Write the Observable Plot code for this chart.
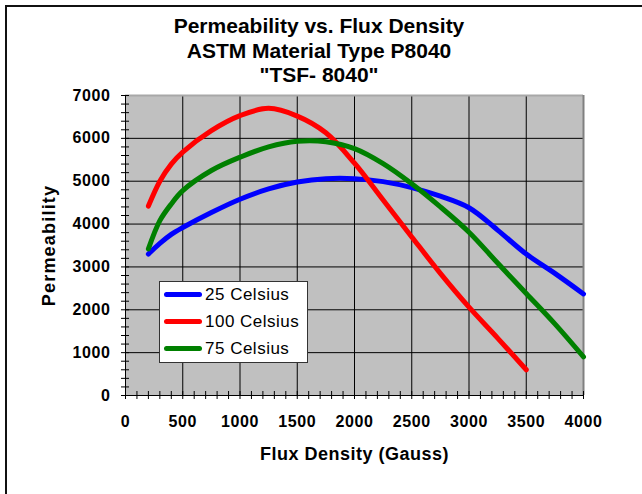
<!DOCTYPE html>
<html>
<head>
<meta charset="utf-8">
<script src="https://cdn.jsdelivr.net/npm/d3@7"></script>
<script src="https://cdn.jsdelivr.net/npm/@observablehq/plot@0.6"></script>
<style>
  html, body { margin: 0; padding: 0; background: #fff; overflow: hidden; }
  body { width: 642px; height: 494px; position: relative; font-family: "Liberation Sans", Arial, sans-serif; }
  #frame { position: absolute; left: 5px; top: 5px; width: 2000px; height: 2000px; border-left: 2px solid #111; border-top: 2px solid #111; }
  #chart { position: absolute; left: 0; top: 0; }
  #title { position: absolute; left: 0; top: 14px; width: 638px; text-align: center; font-weight: bold; font-size: 21px; line-height: 24.5px; color: #000; }
  #legend { position: absolute; left: 159px; top: 281px; width: 147px; height: 80px; background: #fff; border: 1px solid #333; }
  .item { position: absolute; left: 4px; height: 27px; display: flex; align-items: center; font-size: 17px; letter-spacing: 0.5px; color: #000; }
  .sw { width: 38px; height: 5px; border-radius: 3px; margin-right: 3px; }
  g[aria-label="y-axis label"] text { letter-spacing: 1.2px; }
  g[aria-label="x-axis label"] text { letter-spacing: 0.5px; }
  g[aria-label="x-axis tick label"] text, g[aria-label="y-axis tick label"] text { letter-spacing: 0.6px; }
</style>
</head>
<body>
<div id="frame"></div>
<div id="chart"></div>
<div id="title">Permeability vs. Flux Density<br>ASTM Material Type P8040<br>"TSF- 8040"</div>
<div id="legend"></div>
<script>
// ---- data ----
const flux25 = [200, 300, 400, 500, 750, 1000, 1250, 1500, 1750, 2000, 2250, 2500, 2750, 3000, 3250, 3500, 3750, 4000];
const perm25 = [3300, 3550, 3760, 3920, 4270, 4580, 4820, 4980, 5060, 5060, 4990, 4850, 4650, 4380, 3860, 3300, 2850, 2370];

const flux100 = [200, 300, 400, 500, 750, 1000, 1250, 1500, 1750, 2000, 2250, 2500, 2750, 3000, 3250, 3500];
const perm100 = [4420, 5000, 5400, 5680, 6180, 6530, 6700, 6520, 6130, 5420, 4560, 3700, 2850, 2060, 1340, 600];

const flux75 = [200, 300, 400, 500, 750, 1000, 1250, 1500, 1750, 2000, 2250, 2500, 2750, 3000, 3250, 3500, 3750, 4000];
const perm75 = [3420, 4080, 4470, 4780, 5250, 5560, 5800, 5930, 5920, 5760, 5410, 4940, 4400, 3810, 3090, 2380, 1670, 900];

const seriesNames = ["25 Celsius", "100 Celsius", "75 Celsius"];
const xTicks = [0, 500, 1000, 1500, 2000, 2500, 3000, 3500, 4000];
const yTicks = [0, 1000, 2000, 3000, 4000, 5000, 6000, 7000];

// ---- styles ----
const colors = ["#0000ff", "#ff0000", "#008000"];

const table = (fx, py, name) => fx.map((f, i) => ({flux: f, perm: py[i], series: name}));
const series = [
  table(flux25, perm25, seriesNames[0]),
  table(flux100, perm100, seriesNames[1]),
  table(flux75, perm75, seriesNames[2])
];

const yMinor = d3.range(0, 7001, 200);
const xMinor = d3.range(0, 4001, 100);
const fmt = d3.format("d");

const chart = Plot.plot({
  width: 642,
  height: 494,
  marginTop: 95,
  marginLeft: 125,
  marginRight: 59,
  marginBottom: 99,
  style: {fontFamily: "'Liberation Sans', Arial, sans-serif", fontSize: "16px", fontWeight: "bold", color: "#000", background: "transparent"},
  x: {domain: [0, 4000]},
  y: {domain: [0, 7000]},
  marks: [
    Plot.frame({fill: "#c0c0c0", stroke: "none"}),
    Plot.gridX({ticks: xTicks.slice(1, -1), stroke: "#000", strokeOpacity: 1, strokeWidth: 1}),
    Plot.gridY({ticks: yTicks.slice(1, -1), stroke: "#000", strokeOpacity: 1, strokeWidth: 1}),
    Plot.ruleY([7000], {stroke: "#a8a8a8", strokeWidth: 2}),
    Plot.ruleX([4000], {stroke: "#808080", strokeWidth: 2}),
    Plot.ruleX([0], {stroke: "#000", strokeWidth: 1}),
    Plot.ruleY([0], {stroke: "#000", strokeWidth: 1}),
    // minor / major tick marks crossing the axes
    Plot.ruleY(yMinor, {y: d => d, x1: 0, x2: 0, insetLeft: -4, insetRight: -4, stroke: "#000"}),
    Plot.ruleX(xMinor, {x: d => d, y1: 0, y2: 0, insetTop: -4, insetBottom: -4, stroke: "#000"}),
    // tick labels
    Plot.axisY({ticks: yTicks, tickSize: 0, tickPadding: 15, tickFormat: fmt, label: null, fontSize: 16, fontWeight: "bold"}),
    Plot.axisX({ticks: xTicks, tickSize: 0, tickPadding: 20, tickFormat: fmt, label: null, fontSize: 16, fontWeight: "bold"}),
    // axis titles
    Plot.axisY({ticks: [], tickSize: 0, label: "Permeability", labelAnchor: "center", labelOffset: 83, labelArrow: "none", fontSize: 18, fontWeight: "bold"}),
    Plot.axisX({ticks: [], tickSize: 0, label: "Flux Density (Gauss)", labelAnchor: "center", labelOffset: 64, labelArrow: "none", fontSize: 18, fontWeight: "bold"}),
    // series
    ...series.map((d, i) => Plot.line(d, {x: "flux", y: "perm", stroke: colors[i], strokeWidth: 5, strokeLinecap: "round", strokeLinejoin: "round", curve: "catmull-rom"}))
  ]
});
document.getElementById("chart").appendChild(chart);

// legend
const legend = document.getElementById("legend");
seriesNames.forEach((name, i) => {
  const item = document.createElement("div");
  item.className = "item";
  item.style.top = (-1 + i * 27) + "px";
  const sw = document.createElement("div");
  sw.className = "sw";
  sw.style.background = colors[i];
  const t = document.createElement("span");
  t.textContent = name;
  item.appendChild(sw);
  item.appendChild(t);
  legend.appendChild(item);
});
</script>
</body>
</html>
